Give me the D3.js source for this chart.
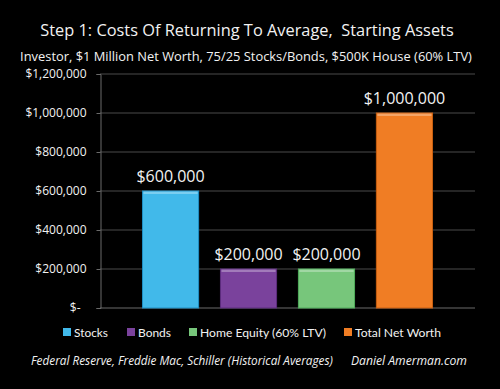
<!DOCTYPE html>
<html>
<head>
<meta charset="utf-8">
<script src="https://cdn.jsdelivr.net/npm/d3@7"></script>
<style>
  body { margin: 0; background: #000; }
  svg { display: block; }
  text { font-family: "Open Sans", "Noto Sans", sans-serif; fill: #f2f2f2; }
</style>
</head>
<body>
<div id="chart"></div>
<script>
const categories = ['Stocks', 'Bonds', 'Home Equity (60% LTV)', 'Total Net Worth'];
const values = [600000, 200000, 200000, 1000000];
const colors = ['#41b9ea', '#7a429c', '#77c67b', '#f07d24'];
const edges = ['#1f8fc4', '#5d2d7e', '#4fae5b', '#c85f10'];
const yTicks = [0, 200000, 400000, 600000, 800000, 1000000, 1200000];

const width = 500;
const height = 389;

const svg = d3.select('#chart').append('svg')
  .attr('width', width)
  .attr('height', height);

svg.append('rect').attr('width', width).attr('height', height).attr('fill', '#000');

// shrink/grow font so a text spans the same width as in the picture
function fitWidth(sel, target) {
  sel.each(function fit() {
    const node = this;
    const size = parseFloat(node.getAttribute('font-size'));
    const w = node.getComputedTextLength();
    if (w > 0) node.setAttribute('font-size', (size * target / w).toFixed(2));
  });
}

// titles
svg.append('text')
  .attr('x', 247).attr('y', 36)
  .attr('text-anchor', 'middle')
  .attr('font-size', 19)
  .text('Step 1: Costs Of Returning To Average,\u00a0 Starting Assets')
  .call(fitWidth, 414);

svg.append('text')
  .attr('x', 246).attr('y', 61)
  .attr('text-anchor', 'middle')
  .attr('font-size', 14)
  .text('Investor, $1 Million Net Worth, 75/25 Stocks/Bonds, $500K House (60% LTV)')
  .call(fitWidth, 452);

// scales
const x = d3.scaleBand()
  .domain(categories)
  .range([100, 475])
  .paddingInner(0.28)
  .paddingOuter(0.545);

const y = d3.scaleLinear()
  .domain([0, 1200000])
  .range([308, 74]);

const fmt = d3.format('$,');

// gridlines
svg.append('g')
  .selectAll('line')
  .data(yTicks)
  .join('line')
  .attr('x1', 100).attr('x2', 475)
  .attr('y1', d => y(d)).attr('y2', d => y(d))
  .attr('stroke', d => (d === 0 ? '#6a6a6a' : '#4a4a4a'))
  .attr('stroke-width', 1.2);

// y axis
const yAxis = svg.append('g')
  .attr('transform', 'translate(100.5,0)')
  .call(d3.axisLeft(y)
    .tickValues(yTicks)
    .tickSize(4)
    .tickPadding(10)
    .tickFormat(d => (d === 0 ? '$-' : fmt(d))));

yAxis.select('.domain').attr('stroke', '#6a6a6a');
yAxis.selectAll('.tick line').attr('stroke', '#6a6a6a');
yAxis.selectAll('.tick text')
  .attr('fill', '#f0f0f0')
  .attr('font-size', 12)
  .attr('font-family', '"Open Sans", "Noto Sans", sans-serif');
yAxis.selectAll('.tick').filter(d => d === 0).select('text').attr('dx', -6);

// bars
const bars = svg.append('g')
  .selectAll('g')
  .data(values)
  .join('g');

bars.append('rect')
  .attr('x', (d, i) => x(categories[i]))
  .attr('y', d => y(d))
  .attr('width', x.bandwidth())
  .attr('height', d => y(0) - y(d))
  .attr('fill', (d, i) => colors[i])
  .attr('stroke', (d, i) => edges[i])
  .attr('stroke-width', 1);

// bevel highlight along top
bars.append('rect')
  .attr('x', (d, i) => x(categories[i]) + 1)
  .attr('y', d => y(d) + 0.5)
  .attr('width', x.bandwidth() - 2)
  .attr('height', 2.5)
  .attr('fill', '#fff')
  .attr('opacity', 0.3);

bars.append('text')
  .attr('x', (d, i) => x(categories[i]) + x.bandwidth() / 2)
  .attr('y', d => y(d) - 9)
  .attr('text-anchor', 'middle')
  .attr('font-size', 16)
  .text(d => fmt(d));

// legend
const legendX = [63, 127, 189, 344];
const legendW = [34, 33, 126, 86];
const legend = svg.append('g')
  .selectAll('g')
  .data(categories)
  .join('g')
  .attr('transform', (d, i) => `translate(${legendX[i]},332)`);

legend.append('rect')
  .attr('x', 0).attr('y', -4)
  .attr('width', 8).attr('height', 8)
  .attr('fill', (d, i) => colors[i]);

legend.append('text')
  .attr('x', 11).attr('y', 4.5)
  .attr('font-size', 13)
  .style('font-family', 'Lato, "Open Sans", sans-serif')
  .text(d => d)
  .each(function fit(d, i) { d3.select(this).call(fitWidth, legendW[i]); });

// footer
svg.append('text')
  .attr('x', 31).attr('y', 365)
  .attr('font-size', 12.5)
  .attr('font-style', 'italic')
  .text('Federal Reserve, Freddie Mac, Schiller (Historical Averages)')
  .call(fitWidth, 302);

svg.append('text')
  .attr('x', 351).attr('y', 365)
  .attr('font-size', 12.5)
  .attr('font-style', 'italic')
  .text('Daniel Amerman.com')
  .call(fitWidth, 116);
</script>
</body>
</html>
